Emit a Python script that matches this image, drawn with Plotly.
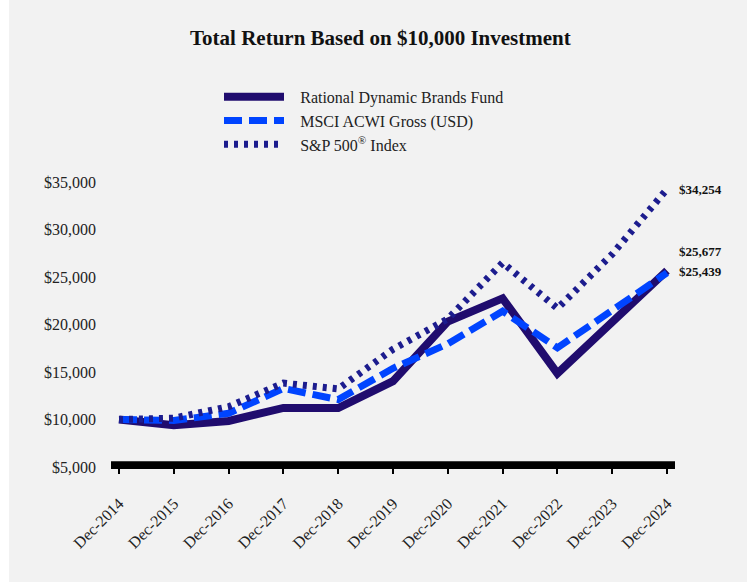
import plotly.graph_objects as go

years = ["Dec-2014", "Dec-2015", "Dec-2016", "Dec-2017", "Dec-2018", "Dec-2019",
         "Dec-2020", "Dec-2021", "Dec-2022", "Dec-2023", "Dec-2024"]
fund = [10000, 9400, 9850, 11220, 11200, 14040, 20300, 22750, 14850, 20400, 25677]
msci = [10000, 9900, 10650, 13270, 12090, 15390, 17970, 21400, 17550, 21560, 25439]
sp500 = [10000, 10140, 11350, 13830, 13220, 17390, 20590, 26500, 21700, 27400, 34254]

names = ["Rational Dynamic Brands Fund", "MSCI ACWI Gross (USD)", "S&P 500<sup>®</sup> Index"]
end_labels = ["$25,677", "$25,439", "$34,254"]
y_ticks = [5000, 10000, 15000, 20000, 25000, 30000, 35000]

x = list(range(len(years)))
FONT = "Liberation Serif"
PAD = "\u00a0\u00a0\u2009"

fig = go.Figure()
fig.add_trace(go.Scatter(x=x, y=fund, name=PAD + names[0], mode="lines",
                         line=dict(color="#200c6e", width=8)))
fig.add_trace(go.Scatter(x=x, y=msci, name=PAD + names[1], mode="lines",
                         line=dict(color="#0044ff", width=7, dash="18px,7px")))
fig.add_trace(go.Scatter(x=x, y=sp500, name=PAD + names[2], mode="lines",
                         line=dict(color="#1c1c8e", width=7, dash="4px,6px")))

# end labels
fig.add_annotation(x=x[-1], y=sp500[-1], text="<b>" + end_labels[2] + "</b>", showarrow=False,
                   xanchor="left", xshift=10, yshift=0, font=dict(family=FONT, size=13, color="#111"))
fig.add_annotation(x=x[-1], y=fund[-1], text="<b>" + end_labels[0] + "</b>", showarrow=False,
                   xanchor="left", xshift=10, yshift=19, font=dict(family=FONT, size=13, color="#111"))
fig.add_annotation(x=x[-1], y=msci[-1], text="<b>" + end_labels[1] + "</b>", showarrow=False,
                   xanchor="left", xshift=10, yshift=1, font=dict(family=FONT, size=13, color="#111"))

fig.add_annotation(xref="paper", yref="paper", x=0.478, y=1.0 + (182 - 38) / 284.4, yanchor="middle",
                   text="<b>Total Return Based on $10,000 Investment</b>", showarrow=False,
                   font=dict(family=FONT, size=21, color="#111"))

# thick black baseline bar
fig.add_shape(type="rect", xref="paper", yref="paper", x0=0, x1=1,
              y0=-2 / 284.4, y1=5.7 / 284.4, fillcolor="black", line_width=0, layer="above")

fig.update_layout(
    width=738, height=582,
    margin=dict(l=102, r=72, t=182, b=115),
    paper_bgcolor="#f2f2f2", plot_bgcolor="#f2f2f2",
    font=dict(family=FONT, size=16, color="#222"),
    showlegend=True,
    legend=dict(x=(219 - 111) / 564, y=1.0 + (182 - 80) / 284.4, xanchor="left", yanchor="top",
                bgcolor="rgba(0,0,0,0)", font=dict(family=FONT, size=16, color="#222"),
                itemwidth=60, tracegroupgap=0),
    xaxis=dict(range=[-0.146, 10.146], tickmode="array", tickvals=x, ticktext=years,
               tickangle=-45, showgrid=False, zeroline=False, showline=False,
               ticks="outside", ticklen=6, tickwidth=2, tickcolor="black",
               ticklabelstandoff=14,
               tickfont=dict(family=FONT, size=16, color="#222")),
    yaxis=dict(range=[5000, 35000], tickvals=y_ticks,
               tickformat="$,.0f", showgrid=False, zeroline=False, showline=False,
               ticks="", ticklabelstandoff=14,
               tickfont=dict(family=FONT, size=16, color="#222")),
)

fig.write_html("out.html", post_script="document.body.style.margin='0 0 0 9px';document.body.style.background='white';")
